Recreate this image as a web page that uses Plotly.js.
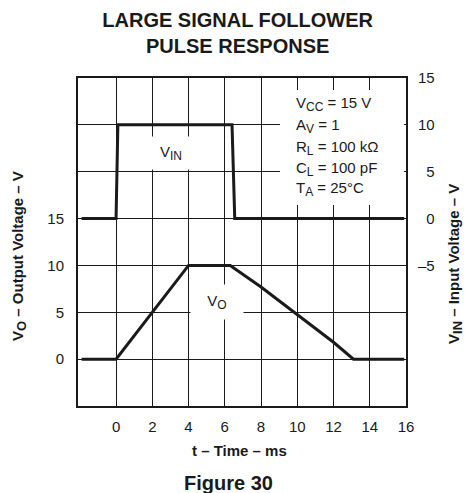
<!DOCTYPE html>
<html>
<head>
<meta charset="utf-8">
<script src="https://cdn.plot.ly/plotly-3.0.1.min.js"></script>
<style>html,body{margin:0;padding:0;background:#fff;}#chart{width:466px;height:493px;}</style>
</head>
<body>
<div id="chart"></div>
<script>
// Time axis (ms)
const vinTime = [-1.9, 0, 0.1, 6.4, 6.55, 15.9];
const vinVolts = [0, 0, 10, 10, 0, 0];
const voTime = [-1.9, 0, 4.0, 6.3, 8, 10, 12, 13.1, 15.9];
const voVolts = [0, 0, 10, 10, 7.7, 4.8, 1.8, 0, 0];

const xTickVals = [0, 2, 4, 6, 8, 10, 12, 14, 16];
const leftTickVals = [0, 5, 10, 15];
const leftTickText = ['0', '5', '10', '15'];
const leftExtraGrid = [20, 25];
const rightTickVals = [-5, 0, 5, 10, 15];
const rightTickText = ['\u20135', '\u20070', '\u20075', '10', '15'];

const sub = (s, size) => '<sub><span style="font-size:' + size + 'px">' + s + '</span></sub>';

const conditions = [
  'V' + sub('CC', 12) + ' = 15 V',
  'A' + sub('V', 12) + ' = 1',
  'R' + sub('L', 12) + ' = 100 k\u03A9',
  'C' + sub('L', 12) + ' = 100 pF',
  'T' + sub('A', 12) + ' = 25\u00B0C'
];

const FONT = 'Liberation Sans, Arial, Helvetica, sans-serif';
const INK = '#1a1a1a';

// plot area in pixels
const W = 466, H = 493, L = 78, R = 60, T = 78, B = 87;
const pw = W - L - R, ph = H - T - B;
const px = v => (v - L) / pw;
const py = v => (H - B - v) / ph;

const traces = [
  {x: vinTime, y: vinVolts, yaxis: 'y2', mode: 'lines', line: {color: INK, width: 3}, hoverinfo: 'skip', showlegend: false},
  {x: voTime, y: voVolts, yaxis: 'y', mode: 'lines', line: {color: INK, width: 3}, hoverinfo: 'skip', showlegend: false}
];

const condY = [103, 125, 146.5, 167.5, 188];
const annotations = conditions.map((t, i) => ({
  xref: 'paper', yref: 'paper', x: px(294), y: py(condY[i] + 1), xanchor: 'left', yanchor: 'middle',
  text: t, showarrow: false, font: {family: FONT, size: 15, color: INK}
}));

annotations.push(
  {xref: 'paper', yref: 'paper', x: px(170.5), y: py(153), xanchor: 'center', yanchor: 'middle',
   text: 'V' + sub('IN', 12), showarrow: false, bgcolor: '#fff', width: 46, height: 30,
   font: {family: FONT, size: 15, color: INK}},
  {xref: 'paper', yref: 'paper', x: px(217), y: py(302), xanchor: 'center', yanchor: 'middle',
   text: 'V' + sub('O', 12), showarrow: false, bgcolor: '#fff', width: 50, height: 32,
   font: {family: FONT, size: 15, color: INK}},
  {xref: 'paper', yref: 'paper', x: px(239), y: py(450), xanchor: 'center', yanchor: 'middle',
   text: '<b>t \u2013 Time \u2013 ms</b>', showarrow: false, font: {family: FONT, size: 15, color: INK}},
  {xref: 'paper', yref: 'paper', x: px(228), y: py(483), xanchor: 'center', yanchor: 'middle',
   text: '<b>Figure 30</b>', showarrow: false, font: {family: FONT, size: 20, color: INK}},
  {xref: 'paper', yref: 'paper', x: px(19), y: py(256), xanchor: 'center', yanchor: 'middle', textangle: -90,
   text: '<b>V' + sub('O', 13) + ' \u2013 Output Voltage \u2013 V</b>', showarrow: false, font: {family: FONT, size: 15, color: INK}},
  {xref: 'paper', yref: 'paper', x: px(455), y: py(264), xanchor: 'center', yanchor: 'middle', textangle: -90,
   text: '<b>V' + sub('IN', 13) + ' \u2013 Input Voltage \u2013 V</b>', showarrow: false, font: {family: FONT, size: 15, color: INK}}
);

const shapes = [
  {type: 'rect', xref: 'paper', yref: 'paper', x0: px(280), x1: px(404), y0: py(205), y1: py(90),
   fillcolor: '#fff', line: {width: 0}, layer: 'above'}
];

const layout = {
  width: W, height: H,
  margin: {l: L, r: R, t: T, b: B, pad: 0},
  paper_bgcolor: '#fff', plot_bgcolor: '#fff',
  font: {family: FONT, size: 14, color: INK},
  title: {text: '<b>LARGE SIGNAL FOLLOWER<br>PULSE RESPONSE</b>', font: {family: FONT, size: 20, color: INK},
          x: 0.51, xanchor: 'center', y: 1 - 27 / H, yanchor: 'middle', yref: 'container'},
  xaxis: {range: [-2.1, 16], tickvals: xTickVals, showgrid: true, gridcolor: INK, gridwidth: 1,
          zeroline: false, showline: true, linecolor: INK, linewidth: 2, mirror: true, ticks: '',
          ticklabelstandoff: 6, tickfont: {family: FONT, size: 15, color: INK}, fixedrange: true},
  yaxis: {range: [-5, 30], tickvals: leftTickVals, ticktext: leftTickText, showgrid: true, gridcolor: INK, gridwidth: 1,
          minor: {tickvals: leftExtraGrid, showgrid: true, gridcolor: INK, gridwidth: 1, ticks: ''},
          zeroline: false, showline: true, linecolor: INK, linewidth: 2, mirror: true, ticks: '',
          ticklabelstandoff: 9, tickfont: {family: FONT, size: 15, color: INK}, fixedrange: true},
  yaxis2: {range: [-20, 15], overlaying: 'y', side: 'right', tickvals: rightTickVals, ticktext: rightTickText,
           showgrid: false, zeroline: false, showline: false, ticks: '', ticklabelstandoff: 11,
           tickfont: {family: FONT, size: 15, color: INK}, fixedrange: true},
  annotations: annotations,
  shapes: shapes,
  showlegend: false
};

Plotly.newPlot('chart', traces, layout, {displayModeBar: false, staticPlot: true});
</script>
</body>
</html>
